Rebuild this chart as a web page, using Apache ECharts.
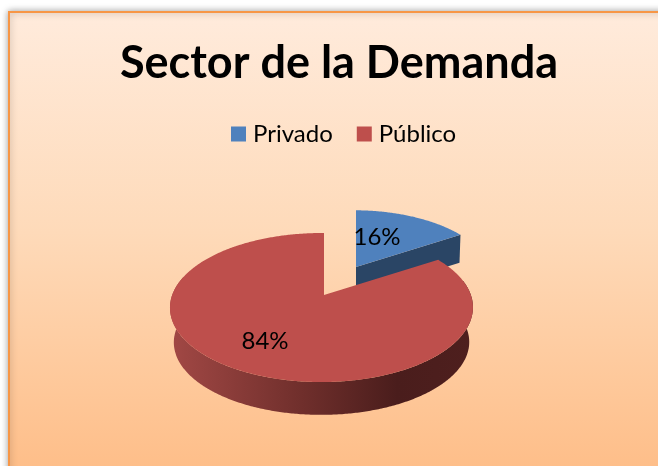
<!DOCTYPE html>
<html>
<head>
<meta charset="utf-8">
<style>html,body{margin:0;padding:0;background:#fff;overflow:hidden}#c{width:658px;height:466px}</style>
<script src="https://cdn.jsdelivr.net/npm/echarts@6/dist/echarts.min.js"></script>
</head>
<body>
<div id="c"></div>
<script>
const chartTitle = 'Sector de la Demanda';
const sectorNames = ['Privado', 'Público'];
const sectorValues = [16, 84];
const total = sectorValues.reduce((a, b) => a + b, 0);

const topColors = ['#4F81BD', '#BE4F4C'];
// Projection of the tilted disc: each slice has its own exploded vertex and scale
const R = 149.3, B = 72.4, K = 0.168, KX = 0.0165;
const layouts = [
  { vx: 356, vy: 267, scale: 0.915, depth: 28, labelX: 377, labelY: 237 },
  { vx: 324, vy: 295, scale: 1, depth: 35, labelX: 265, labelY: 341 }
];

function project(theta, l, s, d) {
  const w = 1 + K * Math.cos(theta) + KX * Math.sin(theta);
  return [l.vx + s * l.scale * R * Math.sin(theta) / w,
          l.vy - s * l.scale * B * Math.cos(theta) / w + d];
}
function arc(a0, a1, l, s, d) {
  const pts = [], n = Math.max(2, Math.ceil(Math.abs(a1 - a0) / 0.01));
  for (let i = 0; i <= n; i++) pts.push(project(a0 + (a1 - a0) * i / n, l, s, d));
  return pts;
}

function makeRender(idx) {
  return function (params, api) {
    const value = api.value(0);
    let before = 0;
    for (let i = 0; i < idx; i++) before += sectorValues[i];
    const a0 = before / total * 2 * Math.PI;
    const a1 = (before + value) / total * 2 * Math.PI;
    const l = layouts[idx];
    const vertex = [l.vx, l.vy];
    const children = [];
    if (idx === 0) {
      const end = project(a1, l, 1, 0);
      children.push({
        type: 'polygon',
        shape: { points: [vertex, end, [end[0] - 1, end[1] + l.depth], [l.vx, l.vy + l.depth]] },
        style: { fill: '#2A4565' }
      });
    } else {
      const front = arc(78 * Math.PI / 180, 285 * Math.PI / 180, l, 1, 0);
      const back = arc(285 * Math.PI / 180, 78 * Math.PI / 180, l, 0.975, l.depth);
      children.push({
        type: 'polygon',
        shape: { points: front.concat(back) },
        style: {
          fill: new echarts.graphic.LinearGradient(0, 0, 1, 0, [
            { offset: 0, color: '#A24845' },
            { offset: 0.45, color: '#6E2E2B' },
            { offset: 0.75, color: '#4A1D1C' },
            { offset: 1, color: '#4E1F1E' }
          ])
        }
      });
    }
    children.push({
      type: 'polygon',
      shape: { points: [vertex].concat(arc(a0, a1, l, 1, 0)) },
      style: { fill: topColors[idx] }
    });
    children.push({
      type: 'text',
      style: {
        x: l.labelX, y: l.labelY,
        text: Math.round(value / total * 100) + '%',
        fill: '#000',
        font: '24px Lato',
        align: 'center', verticalAlign: 'middle'
      }
    });
    return { type: 'group', children };
  };
}

const chart = echarts.init(document.getElementById('c'), null, { renderer: 'canvas' });
chart.setOption({
  animation: false,
  title: {
    text: chartTitle,
    left: 334, top: 36, textAlign: 'center',
    textStyle: { fontFamily: 'Lato', fontWeight: 'bold', fontSize: 45, color: '#000' }
  },
  legend: {
    data: sectorNames,
    left: 226, top: 117,
    itemWidth: 15, itemHeight: 15, itemGap: 24,
    icon: 'rect',
    textStyle: { fontFamily: 'Lato', fontSize: 24, color: '#000', padding: [0, 0, 0, 2] }
  },
  graphic: [{
    type: 'rect', z: 0, silent: true,
    shape: { x: 9, y: 12, width: 680, height: 490 },
    style: {
      fill: new echarts.graphic.LinearGradient(0, 0, 0, 1, [
        { offset: 0, color: '#FFEBDC' },
        { offset: 0.45, color: '#FEDAB9' },
        { offset: 1, color: '#FEBA82' }
      ]),
      stroke: '#F79646', lineWidth: 2,
      shadowBlur: 7, shadowColor: 'rgba(0,0,0,0.35)'
    }
  }],
  series: sectorNames.map((name, i) => ({
    type: 'custom',
    name,
    coordinateSystem: 'none',
    silent: true,
    itemStyle: { color: topColors[i] },
    data: [[sectorValues[i]]],
    renderItem: makeRender(i),
    z: 2 + i
  }))
});
</script>
</body>
</html>
